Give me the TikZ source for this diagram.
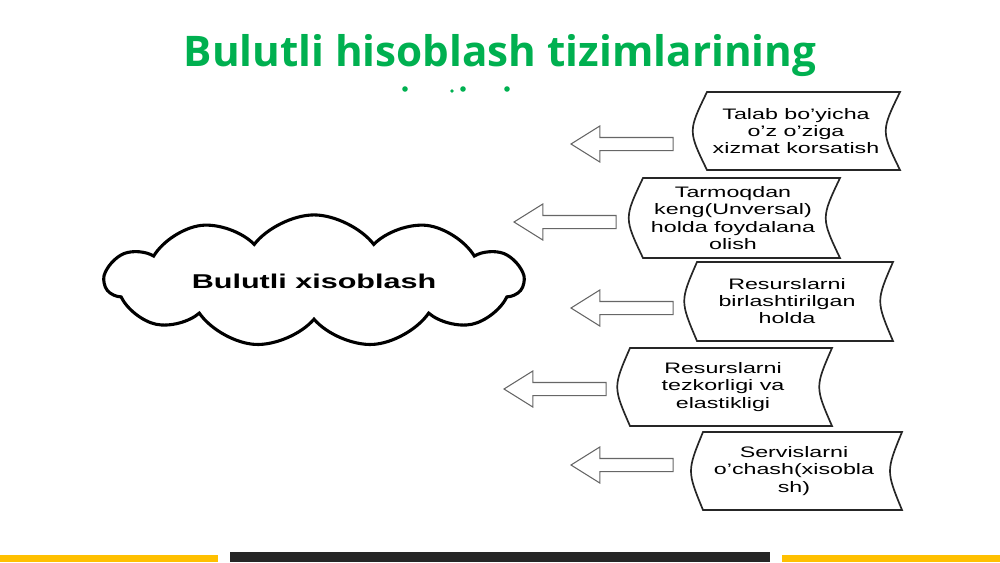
\documentclass[tikz,border=0pt]{standalone}
\usepackage{fontspec}
\usepackage{tikz}
\usetikzlibrary{shapes.symbols,shapes.arrows,positioning}
\newfontfamily\titlefont{Open Sans}
\newfontfamily\boxfont[FakeStretch=1.53]{Liberation Sans}
\definecolor{titlegreen}{HTML}{00B050}
\definecolor{baryellow}{HTML}{FFC000}
\definecolor{bardark}{HTML}{262626}
\tikzset{
    boxtext/.style={
        align=center,
        inner sep=0pt,
        font=\boxfont\fontsize{10.8}{12.4}\selectfont
    },
    boxline/.style={
        draw=black!85,
        line width=1.2pt
    },
    blockarrow/.style={
        single arrow,
        draw=black!60,
        fill=white,
        line width=0.75pt,
        shape border rotate=180,
        inner sep=0pt,
        minimum width=0pt,
        text height=4.27pt,
        text depth=4.27pt,
        single arrow head extend=8.18pt,
        single arrow tip angle=64,
        single arrow head indent=0pt,
        minimum height=72.6pt,
        anchor=tip
    }
}

\begin{document}
\begin{tikzpicture}[x=0.025cm, y=-0.025cm]
  \useasboundingbox (0,0) rectangle (1000,562);

  % Title
  \node[font=\titlefont\bfseries\fontsize{30}{36}\selectfont, text=titlegreen] (title) at (500,56) {Bulutli hisoblash tizimlarining};
  \fill[titlegreen] (405,89) circle (2.8);
  \fill[titlegreen] (452,91) circle (1.8);
  \fill[titlegreen] (463,89) circle (2.8);
  \fill[titlegreen] (507,89) circle (2.8);

  % Cloud
  \node[cloud, draw, line width=2.2pt, cloud puffs=11, cloud puff arc=105, cloud ignores aspect,
        minimum width=297pt, minimum height=94pt,
        font=\boxfont\bfseries\fontsize{14.2}{17}\selectfont] (cloud) at (314,281) {Bulutli xisoblash};

  % Boxes
  \draw[boxline] (707,170) .. controls (688,131) .. (707,92) -- (900,92) .. controls (881,131) .. (900,170) -- cycle;
  \node[boxtext] (t1) at (796,131) {Talab bo’yicha\\o’z o’ziga\\xizmat korsatish};

  \draw[boxline] (643,258) .. controls (624,218) .. (643,178) -- (840,178) .. controls (821,218) .. (840,258) -- cycle;
  \node[boxtext] (t2) at (733,218) {Tarmoqdan\\keng(Unversal)\\holda foydalana\\olish};

  \draw[boxline] (697,341) .. controls (680,301) .. (697,262) -- (893,262) .. controls (876,301) .. (893,341) -- cycle;
  \node[boxtext] (t3) at (787,301) {Resurslarni\\birlashtirilgan\\holda};

  \draw[boxline] (630,426) .. controls (613,387) .. (630,348) -- (832,348) .. controls (815,387) .. (832,426) -- cycle;
  \node[boxtext] (t4) at (723,387) {Resurslarni\\tezkorligi va\\elastikligi};

  \draw[boxline] (703,510) .. controls (687,471) .. (703,432) -- (902,432) .. controls (886,471) .. (902,510) -- cycle;
  \node[boxtext] (t5) at (794,471) {Servislarni\\o’chash(xisobla\\sh)};

  % Arrows
  \node[blockarrow] (a1) at (570,144) {};
  \node[blockarrow] (a2) at (513,222) {};
  \node[blockarrow] (a3) at (570,308) {};
  \node[blockarrow] (a4) at (503,389) {};
  \node[blockarrow] (a5) at (570,465) {};

  % Bottom bars
  \fill[baryellow] (0,555) rectangle (218,562);
  \fill[bardark] (230,552) rectangle (770,562);
  \fill[baryellow] (782,555) rectangle (1000,562);
\end{tikzpicture}
\end{document}
